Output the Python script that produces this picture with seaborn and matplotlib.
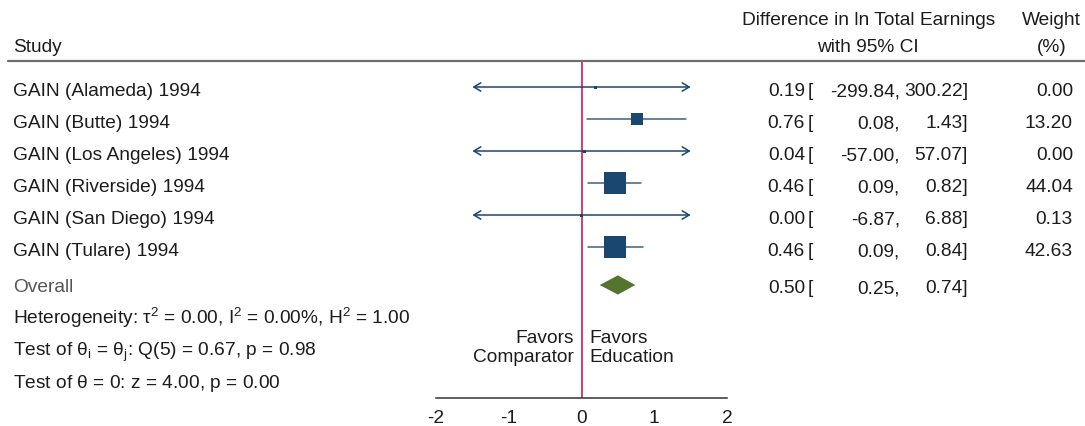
import matplotlib
matplotlib.use("Agg")
import matplotlib.pyplot as plt
import matplotlib.transforms as mtransforms
from matplotlib.patches import FancyArrowPatch
from matplotlib.lines import Line2D
import numpy as np
import pandas as pd
import seaborn as sns

# ---- data -------------------------------------------------------------
studies = ["GAIN (Alameda) 1994", "GAIN (Butte) 1994", "GAIN (Los Angeles) 1994",
           "GAIN (Riverside) 1994", "GAIN (San Diego) 1994", "GAIN (Tulare) 1994"]
effects = [0.19, 0.76, 0.04, 0.46, 0.00, 0.46]
ci_low = [-299.84, 0.08, -57.00, 0.09, -6.87, 0.09]
ci_high = [300.22, 1.43, 57.07, 0.82, 6.88, 0.84]
weights = [0.00, 13.20, 0.00, 44.04, 0.13, 42.63]

overall_effect = 0.50
overall_low = 0.25
overall_high = 0.74

x_ticks = [-2, -1, 0, 1, 2]
stats_lines = [
    r"Heterogeneity: $\mathregular{\tau^2}$ = 0.00, I$^\mathregular{2}$ = 0.00%, H$^\mathregular{2}$ = 1.00",
    r"Test of $\mathregular{\theta_i}$ = $\mathregular{\theta_j}$: Q(5) = 0.67, p = 0.98",
    r"Test of $\mathregular{\theta}$ = 0: z = 4.00, p = 0.00",
]

# ---- style ------------------------------------------------------------
sns.set_theme(style="white")
plt.rcParams["font.family"] = ["Liberation Sans", "DejaVu Sans"]
plt.rcParams["mathtext.fontset"] = "custom"
plt.rcParams["mathtext.rm"] = "Liberation Sans"
plt.rcParams["mathtext.it"] = "Liberation Sans"
plt.rcParams["mathtext.bf"] = "Liberation Sans:bold"

W, H = 1085, 427
FS = 13.75
TXT = "#1c1c1c"
NAVY = "#1a476f"
GREEN = "#55752f"
RED = "#d0195a"
CLIP = 1.5  # CIs beyond this are drawn as arrows

fig = plt.figure(figsize=(W / 100, H / 100), dpi=100)
fig.patch.set_facecolor("white")

def fx(px):
    return px / W

def fy(py):
    return 1 - py / H

top_px, axis_px = 62, 399
ax = fig.add_axes([fx(436), fy(axis_px), fx(727) - fx(436), (axis_px - top_px) / H])
row_h = 32
first_row = 88
ax.set_ylim((axis_px - first_row) / row_h, (top_px - first_row) / row_h)
ax.set_xlim(-2, 2)

def row_of(px):
    return (px - first_row) / row_h

rows = np.arange(len(studies), dtype=float)
overall_row = row_of(286)
base_off = 8.5 / row_h  # text baseline sits below the marker centre

# no-effect line
ax.axvline(0, color=RED, lw=1.2, zorder=1)

# confidence intervals
for r, lo, hi in zip(rows, ci_low, ci_high):
    lo_c, hi_c = max(lo, -CLIP), min(hi, CLIP)
    if lo < -CLIP or hi > CLIP:
        style = ("<" if lo < -CLIP else "") + "-" + (">" if hi > CLIP else "")
        arr = FancyArrowPatch((lo_c, r), (hi_c, r),
                              arrowstyle=style + ",head_length=5,head_width=3",
                              color=NAVY, lw=1.1, mutation_scale=1, zorder=2,
                              shrinkA=0, shrinkB=0)
        ax.add_patch(arr)
    else:
        ax.plot([lo_c, hi_c], [r, r], color=NAVY, lw=1.1, zorder=2, alpha=0.85)

# study markers, area proportional to weight
side_px = np.maximum(3.4 * np.sqrt(np.array(weights)), 3.0)
sizes = (side_px * 0.72) ** 2
df = pd.DataFrame({"effect": effects, "row": rows})
sns.scatterplot(data=df, x="effect", y="row", marker="s", s=sizes,
                color=NAVY, edgecolor="none", linewidth=0, ax=ax, zorder=3)

# overall diamond
half_h = 0.30
ax.fill([overall_low, overall_effect, overall_high, overall_effect],
        [overall_row, overall_row - half_h, overall_row, overall_row + half_h],
        color=GREEN, lw=0, zorder=3)

# axis styling
for s in ["left", "top", "right"]:
    ax.spines[s].set_visible(False)
ax.spines["bottom"].set_color("#333333")
ax.spines["bottom"].set_linewidth(1.1)
ax.set_yticks([])
ax.set_xticks(x_ticks)
ax.set_xticklabels([str(t) for t in x_ticks])
ax.tick_params(axis="x", direction="out", length=5, width=1.1, color="#333333",
               labelsize=FS, labelcolor=TXT, pad=3)
ax.set_xlabel("")
ax.set_ylabel("")

# favors labels
ax.text(-0.11, row_of(343), "Favors", ha="right", va="baseline", fontsize=FS, color=TXT)
ax.text(-0.11, row_of(362), "Comparator", ha="right", va="baseline", fontsize=FS, color=TXT)
ax.text(0.11, row_of(343), "Favors", ha="left", va="baseline", fontsize=FS, color=TXT)
ax.text(0.11, row_of(362), "Education", ha="left", va="baseline", fontsize=FS, color=TXT)

# ---- table columns ----------------------------------------------------
tr = mtransforms.blended_transform_factory(fig.transFigure, ax.transData)

def put(xpx, y, s, ha="left", color=TXT):
    ax.text(fx(xpx), y, s, transform=tr, fontsize=FS, color=color,
            va="baseline", ha=ha, clip_on=False)

for r, name in zip(rows, studies):
    put(13, r + base_off, name)

put(13, row_of(292.5), "Overall", color="#555555")

def ci_text(y, est, lo, hi, w=None):
    put(805, y, f"{est:.2f}", ha="right")
    put(808, y, "[")
    put(900, y, f"{lo:.2f},", ha="right")
    put(968, y, f"{hi:.2f}]", ha="right")
    if w is not None:
        put(1073, y, f"{w:.2f}", ha="right")

for r, e, lo, hi, w in zip(rows, effects, ci_low, ci_high, weights):
    ci_text(r + base_off, e, lo, hi, w)
ci_text(row_of(293), overall_effect, overall_low, overall_high)

for i, line in enumerate(stats_lines):
    put(13, row_of(324 + 32 * i), line)

# headers
def head(xpx, ypx, s, ha):
    fig.text(fx(xpx), fy(ypx), s, fontsize=FS, color=TXT, va="baseline", ha=ha)

head(13, 52, "Study", "left")
head(869, 25, "Difference in ln Total Earnings", "center")
head(868, 52, "with 95% CI", "center")
head(1051, 25, "Weight", "center")
head(1052, 52, "(%)", "center")

fig.add_artist(Line2D([fx(8), fx(1085)], [fy(62), fy(62)], color="#6e6e6e", lw=1.6,
                      transform=fig.transFigure))

fig.savefig("out.png", dpi=100, facecolor="white")
